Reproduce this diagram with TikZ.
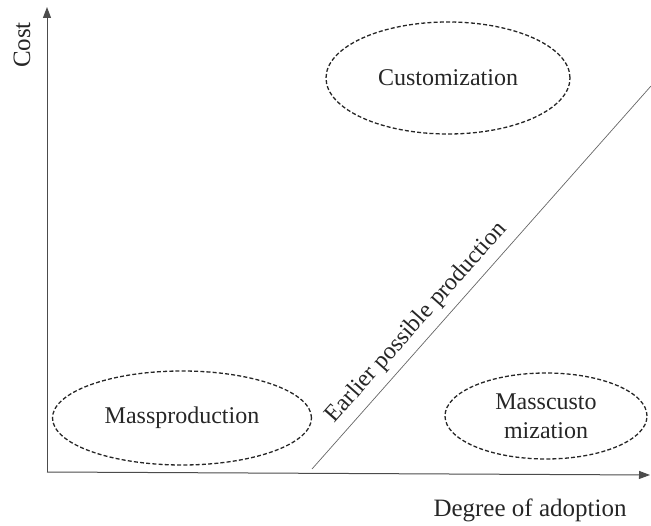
\documentclass[tikz,border=0pt]{standalone}
\usepackage{fontspec}
\setmainfont{Liberation Serif}
\usetikzlibrary{shapes.geometric,arrows.meta}
\begin{document}
\begin{tikzpicture}[x=1pt,y=-1pt,
  axis/.style={draw=black!70,line width=1pt,-{Triangle[length=11pt,width=8pt]}},
  region/.style={ellipse,draw=black!85,line width=1.3pt,dash pattern=on 4pt off 2.2pt,
    inner sep=0pt,font=\fontsize{24}{29}\selectfont,align=center,text=black!85},
  axlabel/.style={font=\fontsize{25}{30}\selectfont,text=black!85}]
  \useasboundingbox (0,0) rectangle (651,526);

  % axes
  \coordinate (origin) at (47,472);
  \coordinate (ytip) at (47,7);
  \coordinate (xtip) at (650,475);
  \draw[axis] (origin) -- (ytip);
  \draw[axis] (origin) -- (xtip);
  \node[axlabel,rotate=90] (cost) at (22,45) {Cost};
  \node[axlabel] (adopt) at (530,510) {Degree of adoption};

  % production frontier
  \coordinate (f0) at (312,469);
  \coordinate (f1) at (651,86);
  \draw[black!60,line width=0.7pt] (f0) -- (f1)
    node[pos=0.35,sloped,above=4pt,font=\fontsize{24}{29}\selectfont,text=black!85] (frontier)
    {Earlier possible production};

  % regions
  \node[region,minimum width=244pt,minimum height=112pt] (custom) at (448,78) {Customization};
  \node[region,minimum width=259pt,minimum height=94pt] (mass) at (182,418) {Massproduction};
  \node[region,minimum width=202pt,minimum height=86pt] (masscust) at (546,416) {Masscusto\\mization};
\end{tikzpicture}
\end{document}
